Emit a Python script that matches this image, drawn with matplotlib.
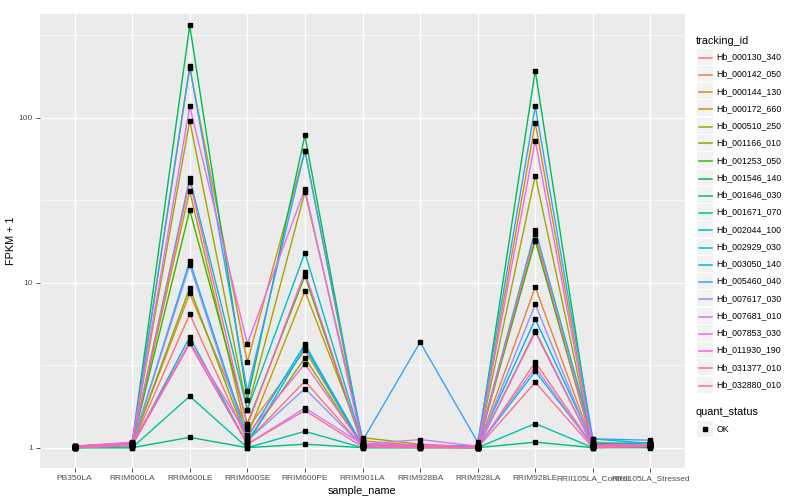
import matplotlib
matplotlib.use("Agg")
import matplotlib.pyplot as plt
from matplotlib.lines import Line2D
from matplotlib.patches import Rectangle

plt.rcParams['font.family'] = ['Liberation Sans', 'DejaVu Sans']

samples = ["PB350LA", "RRIM600LA", "RRIM600LE", "RRIM600SE", "RRIM600PE", "RRIM901LA",
           "RRIM928BA", "RRIM928LA", "RRIM928LE", "RRII105LA_Control", "RRII105LA_Stressed"]

tracking_ids = ["Hb_000130_340", "Hb_000142_050", "Hb_000144_130", "Hb_000172_660",
                "Hb_000510_250", "Hb_001166_010", "Hb_001253_050", "Hb_001546_140",
                "Hb_001646_030", "Hb_001671_070", "Hb_002044_100", "Hb_002929_030",
                "Hb_003050_140", "Hb_005460_040", "Hb_007617_030", "Hb_007681_010",
                "Hb_007853_030", "Hb_011930_190", "Hb_031377_010", "Hb_032880_010"]

colors = ["#F8766D", "#EA8331", "#D89000", "#C09B00", "#A3A500", "#7CAE00", "#39B600",
          "#00BB4E", "#00BF7D", "#00C1A3", "#00BFC4", "#00BAE0", "#00B0F6", "#35A2FF",
          "#9590FF", "#C77CFF", "#E76BF3", "#FA62DB", "#FF62BC", "#FF6C91"]

# FPKM + 1, one row per tracking_id, one column per sample
fpkm = [
    [1.01, 1.04, 6.45, 1.10, 2.53, 1.02, 1.01, 1.00, 3.30, 1.02, 1.03],
    [1.01, 1.05, 8.60, 1.30, 3.89, 1.03, 1.02, 1.01, 9.40, 1.04, 1.05],
    [1.02, 1.06, 200., 3.30, 63.0, 1.05, 1.02, 1.01, 93.0, 1.05, 1.06],
    [1.01, 1.05, 36.0, 1.18, 8.90, 1.10, 1.03, 1.02, 18.2, 1.08, 1.05],
    [1.02, 1.06, 96.0, 1.70, 35.5, 1.15, 1.05, 1.01, 44.6, 1.04, 1.07],
    [1.00, 1.04, 9.30, 1.10, 3.50, 1.02, 1.01, 1.00, 5.10, 1.02, 1.03],
    [1.01, 1.05, 27.5, 1.40, 11.0, 1.03, 1.02, 1.01, 18.0, 1.03, 1.04],
    [1.02, 1.07, 362., 1.95, 78.0, 1.04, 1.02, 1.01, 193., 1.05, 1.07],
    [1.00, 1.00, 1.155, 1.00, 1.05, 1.00, 1.00, 1.00, 1.08, 1.00, 1.00],
    [1.00, 1.00, 2.05, 1.00, 1.256, 1.00, 1.00, 1.00, 1.40, 1.00, 1.02],
    [1.01, 1.05, 43.0, 1.70, 15.2, 1.06, 1.03, 1.02, 20.8, 1.13, 1.06],
    [1.00, 1.03, 4.68, 1.05, 4.07, 1.02, 1.01, 1.02, 2.90, 1.03, 1.02],
    [1.01, 1.04, 13.5, 1.15, 4.23, 1.03, 1.02, 1.03, 6.00, 1.06, 1.05],
    [1.02, 1.06, 205., 2.20, 63.0, 1.10, 4.36, 1.08, 117., 1.13, 1.11],
    [1.01, 1.04, 12.8, 1.10, 2.28, 1.02, 1.01, 1.00, 7.40, 1.02, 1.03],
    [1.00, 1.03, 4.28, 1.05, 1.74, 1.05, 1.12, 1.02, 3.07, 1.01, 1.02],
    [1.02, 1.08, 117., 4.27, 37.0, 1.05, 1.04, 1.01, 72.5, 1.03, 1.05],
    [1.01, 1.05, 4.36, 1.20, 3.22, 1.03, 1.02, 1.00, 5.00, 1.02, 1.03],
    [1.02, 1.06, 41.0, 1.36, 11.6, 1.04, 1.02, 1.01, 19.7, 1.03, 1.04],
    [1.00, 1.03, 4.28, 1.05, 1.68, 1.01, 1.00, 1.00, 2.49, 1.00, 1.02],
]

y_ticks = [1, 10, 100]
y_minor = [10 ** 0.5, 10 ** 1.5, 10 ** 2.5]

W, H = 800, 500
fig = plt.figure(figsize=(8, 5), dpi=100)
ax = fig.add_axes([40 / W, 1 - 468 / H, 645 / W, 454 / H])
ax.set_facecolor("#EBEBEB")

x = list(range(len(samples)))
for vals, col in zip(fpkm, colors):
    ax.plot(x, vals, color=col, lw=1.0, zorder=2)
for vals in fpkm:
    ax.plot(x, vals, ls="none", marker="s", ms=2.2, color="black", zorder=3)

ax.set_yscale("log")
ax.set_ylim(0.753, 425)
ax.set_xlim(-0.6, len(samples) - 0.4)
ax.set_xticks(x)
ax.set_xticklabels(samples)
ax.set_yticks(y_ticks)
ax.set_yticklabels([str(t) for t in y_ticks])
ax.set_yticks(y_minor, minor=True)
ax.tick_params(axis="y", which="minor", length=0)
ax.tick_params(which="major", length=3, width=0.6, color="#333333",
               labelsize=6, labelcolor="#4D4D4D", pad=2)
ax.grid(True, which="major", color="white", lw=1.0, zorder=0)
ax.grid(True, which="minor", axis="y", color="white", lw=0.5, zorder=0)
ax.set_axisbelow(True)
for s in ax.spines.values():
    s.set_visible(False)

ax.set_xlabel("sample_name", fontsize=7.8, labelpad=3)
ax.set_ylabel("FPKM + 1", fontsize=7.8, labelpad=2)


# hand-built ggplot style legends (pixel layout -> figure fraction)
def fx(px):
    return px / W


def fy(py):
    return 1 - py / H


key_x0, key_w, key_h, step = 697, 16, 16, 17.26
fig.text(fx(696), fy(40.5), "tracking_id", fontsize=7.8, va="center", ha="left")
for i, (tid, col) in enumerate(zip(tracking_ids, colors)):
    cy = 56.7 + i * step
    ly = round(cy) + 0.5
    fig.add_artist(Rectangle((fx(key_x0), fy(cy + key_h / 2)), key_w / W, key_h / H,
                             transform=fig.transFigure, facecolor="#F2F2F2", edgecolor="none"))
    fig.add_artist(Line2D([fx(key_x0 + 1.5), fx(key_x0 + key_w - 1.5)], [fy(ly), fy(ly)],
                          transform=fig.transFigure, color=col, lw=1.1))
    fig.text(fx(716.5), fy(cy), tid, fontsize=6.3, va="center", ha="left")

fig.text(fx(696), fy(412), "quant_status", fontsize=7.8, va="center", ha="left")
cy = 429
fig.add_artist(Rectangle((fx(key_x0), fy(cy + key_h / 2)), key_w / W, key_h / H,
                         transform=fig.transFigure, facecolor="#F2F2F2", edgecolor="none"))
fig.add_artist(Line2D([fx(key_x0 + key_w / 2)], [fy(cy)], transform=fig.transFigure,
                      ls="none", marker="s", ms=2.2, color="black"))
fig.text(fx(716.5), fy(cy), "OK", fontsize=6.3, va="center", ha="left")

fig.savefig("out.png", dpi=100)
